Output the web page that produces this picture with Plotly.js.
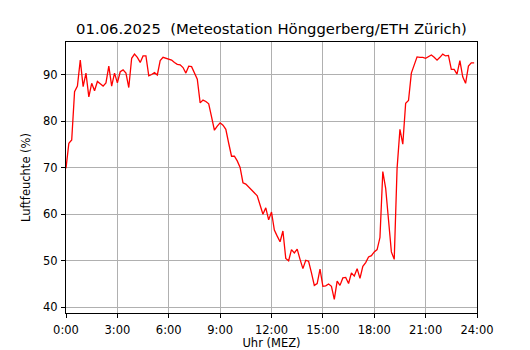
<!DOCTYPE html>
<html>
<head>
<meta charset="utf-8">
<script src="https://cdn.plot.ly/plotly-3.0.1.min.js"></script>
<style>html,body{margin:0;padding:0;background:#fff;}#chart{width:530px;height:350px;}</style>
</head>
<body>
<div id="chart"></div>
<script>
// Relative humidity (%) every 10 minutes, starting 0:00
const humidity = [
  69.9, 75.3, 76.0, 86.4, 87.6, 93.2, 87.5, 90.4, 85.3, 88.2, 86.6, 88.6,
  88.1, 87.6, 88.3, 91.9, 87.6, 90.4, 88.3, 90.7, 91.1, 90.4, 87.3, 93.6,
  94.5, 93.8, 92.7, 94.1, 94.1, 89.8, 90.1, 90.5, 90.0, 93.1, 93.8, 93.6,
  93.4, 93.2, 92.7, 92.3, 92.2, 91.6, 90.4, 91.9, 91.8, 90.4, 89.1, 84.0,
  84.6, 84.3, 83.8, 81.0, 78.1, 79.0, 79.7, 79.2, 78.3, 75.3, 72.5, 72.5,
  71.5, 70.1, 66.8, 66.5, 65.9, 65.2, 64.5, 64.0, 62.0, 60.0, 61.4, 58.8,
  60.5, 56.6, 55.3, 54.1, 56.4, 50.5, 50.0, 52.4, 51.7, 52.5, 50.3, 48.3,
  50.1, 49.9, 47.4, 44.7, 45.1, 48.2, 44.5, 44.6, 45.0, 44.5, 41.7, 45.6,
  44.7, 46.3, 46.4, 45.1, 47.4, 46.7, 48.3, 46.2, 48.8, 49.6, 50.8, 51.1,
  51.9, 52.4, 55.0, 69.2, 65.6, 58.8, 51.9, 50.3, 69.9, 78.3, 75.1, 83.9,
  84.5, 90.4, 92.2, 93.9, 93.8, 93.8, 93.6, 93.9, 94.3, 93.8, 93.2, 93.8,
  94.5, 94.1, 94.2, 91.2, 91.2, 90.2, 93.1, 89.6, 88.2, 91.9, 92.6, 92.6
];
const startHour = 0;
const stepHours = 1 / 6; // 10-minute sampling
const xTickVals = [0, 3, 6, 9, 12, 15, 18, 21, 24];
const xTickText = ["0:00", "3:00", "6:00", "9:00", "12:00", "15:00", "18:00", "21:00", "24:00"];
const yTickVals = [40, 50, 60, 70, 80, 90];

const font = {family: "DejaVu Sans, sans-serif", size: 11.5, color: "#000"};

Plotly.newPlot("chart", [{
  type: "scatter",
  mode: "lines",
  y: humidity,
  x0: startHour,
  dx: stepHours,
  line: {color: "#ff0000", width: 1.3},
  hoverinfo: "skip"
}], {
  width: 530,
  height: 350,
  margin: {l: 66, r: 53, t: 42, b: 37},
  paper_bgcolor: "#fff",
  plot_bgcolor: "#fff",
  font: font,
  showlegend: false,
  title: {
    text: "01.06.2025  (Meteostation Hönggerberg/ETH Zürich)",
    font: {family: "DejaVu Sans, sans-serif", size: 14.8, color: "#000"},
    x: 0.5, xref: "paper", xanchor: "center",
    y: 1 - 28.5 / 350, yref: "container", yanchor: "middle"
  },
  xaxis: {
    range: [0, 24],
    tickvals: xTickVals,
    ticktext: xTickText,
    ticks: "outside", ticklen: 4, tickwidth: 1, tickcolor: "#000",
    ticklabelstandoff: 2,
    showline: true, linecolor: "#000", linewidth: 1, mirror: true,
    showgrid: true, gridcolor: "#b0b0b0", gridwidth: 1,
    zeroline: false,
    tickfont: font,
    title: {text: "Uhr (MEZ)", font: font, standoff: 6}
  },
  yaxis: {
    range: [38.75, 97.1],
    tickvals: yTickVals,
    ticks: "outside", ticklen: 4, tickwidth: 1, tickcolor: "#000",
    ticklabelstandoff: 1,
    showline: true, linecolor: "#000", linewidth: 1, mirror: true,
    showgrid: true, gridcolor: "#b0b0b0", gridwidth: 1,
    zeroline: false,
    tickfont: font,
    title: {text: "Luftfeuchte (%)", font: font, standoff: 10}
  }
}, {displayModeBar: false, staticPlot: true});
</script>
</body>
</html>
